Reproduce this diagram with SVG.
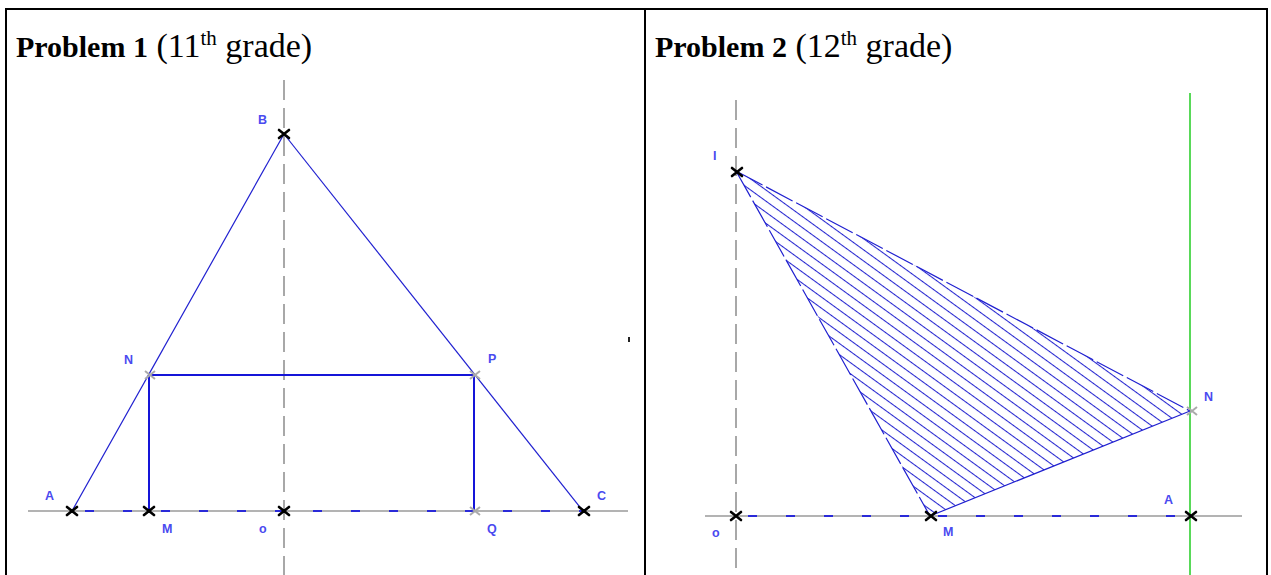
<svg xmlns="http://www.w3.org/2000/svg" width="1271" height="575" viewBox="0 0 1271 575">
<style>
.border{stroke:#000;stroke-width:2;fill:none}
.title{font-family:"Liberation Serif","Times New Roman",serif;font-size:34px;fill:#000}
.bold{font-weight:bold;font-size:30px}
.sup{font-size:21px}
.axisv{stroke:#8c8c8c;stroke-width:1.5;stroke-dasharray:20 8;fill:none}
.axish{stroke:#9a9a9a;stroke-width:1.5;fill:none}
.bdash{stroke:#2a2ad8;stroke-width:2;stroke-dasharray:9 29;fill:none}
.thin{stroke:#2020d0;stroke-width:1.2;fill:none}
.thick{stroke:#1515d8;stroke-width:2;fill:none}
.lbl{font-family:"Liberation Sans",Arial,sans-serif;font-size:12.5px;font-weight:bold;fill:#4a4af0}
.xk{stroke:#000;stroke-width:2.6;fill:none;stroke-linecap:round}
.xg{stroke:#aaaaaa;stroke-width:2;fill:none}
</style>
<defs>
<path id="cross" d="M-5,-4 L5,4 M-5,4 L5,-4"/>
<pattern id="hatch" patternUnits="userSpaceOnUse" width="9" height="9" patternTransform="rotate(36)">
<line x1="0" y1="0.5" x2="9" y2="0.5" stroke="#2525d0" stroke-width="1.1"/>
</pattern>
<clipPath id="triclip"><polygon points="736,171 1190,411 930,516"/></clipPath>
</defs>
<rect width="1271" height="575" fill="#fff"/>
<g id="table">
<line class="border" x1="6" y1="9" x2="1268" y2="9"/>
<line class="border" x1="6" y1="8" x2="6" y2="575"/>
<line class="border" x1="645" y1="8" x2="645" y2="575"/>
<line class="border" x1="1267" y1="8" x2="1267" y2="575"/>
</g>
<g id="title1"><text class="title" x="16" y="57"><tspan class="bold">Problem 1</tspan> (11<tspan class="sup" dy="-12">th</tspan><tspan dy="12"> grade)</tspan></text></g>
<g id="title2"><text class="title" x="655" y="57"><tspan class="bold">Problem 2</tspan> (12<tspan class="sup" dy="-12">th</tspan><tspan dy="12"> grade)</tspan></text></g>

<g id="connectors">
<line class="axisv" x1="284" y1="80" x2="284" y2="575"/>
<line class="axish" x1="28" y1="511" x2="628" y2="511"/>
<line class="bdash" x1="85" y1="511" x2="583" y2="511"/>
<line class="thin" x1="72" y1="511" x2="284" y2="134"/>
<line class="thin" x1="284" y1="134" x2="583" y2="511"/>
<line class="thick" x1="149" y1="375" x2="474" y2="375"/>
<line class="thick" x1="149" y1="375" x2="149" y2="511"/>
<line class="thick" x1="474" y1="375" x2="474" y2="511"/>
<rect x="628" y="337" width="2" height="5" fill="#222"/>

<line class="axisv" x1="736" y1="100" x2="736" y2="575"/>
<line class="axish" x1="705" y1="516" x2="1242" y2="516"/>
<line class="bdash" x1="748" y1="516" x2="1190" y2="516"/>
<line stroke="#22cc22" stroke-width="1.5" x1="1190" y1="93" x2="1190" y2="575"/>
<rect x="730" y="165" width="470" height="360" fill="url(#hatch)" clip-path="url(#triclip)"/>
<line class="thin" x1="736" y1="171" x2="1190" y2="411" stroke-dasharray="30 4"/>
<line class="thin" x1="736" y1="171" x2="930" y2="516" stroke-dasharray="30 4"/>
<line class="thin" x1="930" y1="516" x2="1190" y2="411"/>
</g>

<g id="node-B"><use href="#cross" class="xk" x="284" y="134"/><text class="lbl" x="258" y="124">B</text></g>
<g id="node-A1"><use href="#cross" class="xk" x="72" y="511"/><text class="lbl" x="45" y="500">A</text></g>
<g id="node-C"><use href="#cross" class="xk" x="584" y="511"/><text class="lbl" x="597" y="500">C</text></g>
<g id="node-N1"><use href="#cross" class="xg" x="150" y="375"/><text class="lbl" x="124" y="364">N</text></g>
<g id="node-P"><use href="#cross" class="xg" x="475" y="375"/><text class="lbl" x="488" y="363">P</text></g>
<g id="node-M1"><use href="#cross" class="xk" x="149" y="511"/><text class="lbl" x="162" y="533">M</text></g>
<g id="node-o1"><use href="#cross" class="xk" x="284" y="511"/><text class="lbl" x="259" y="533">o</text></g>
<g id="node-Q"><use href="#cross" class="xg" x="475" y="511"/><text class="lbl" x="487" y="533">Q</text></g>

<g id="node-I"><use href="#cross" class="xk" x="737" y="172"/><text class="lbl" x="713" y="160">I</text></g>
<g id="node-N2"><use href="#cross" class="xg" x="1192" y="411"/><text class="lbl" x="1204" y="401">N</text></g>
<g id="node-M2"><use href="#cross" class="xk" x="931" y="516"/><text class="lbl" x="943" y="536">M</text></g>
<g id="node-A2"><use href="#cross" class="xk" x="1191" y="516"/><text class="lbl" x="1164" y="504">A</text></g>
<g id="node-o2"><use href="#cross" class="xk" x="736" y="516"/><text class="lbl" x="712" y="537">o</text></g>
</svg>
